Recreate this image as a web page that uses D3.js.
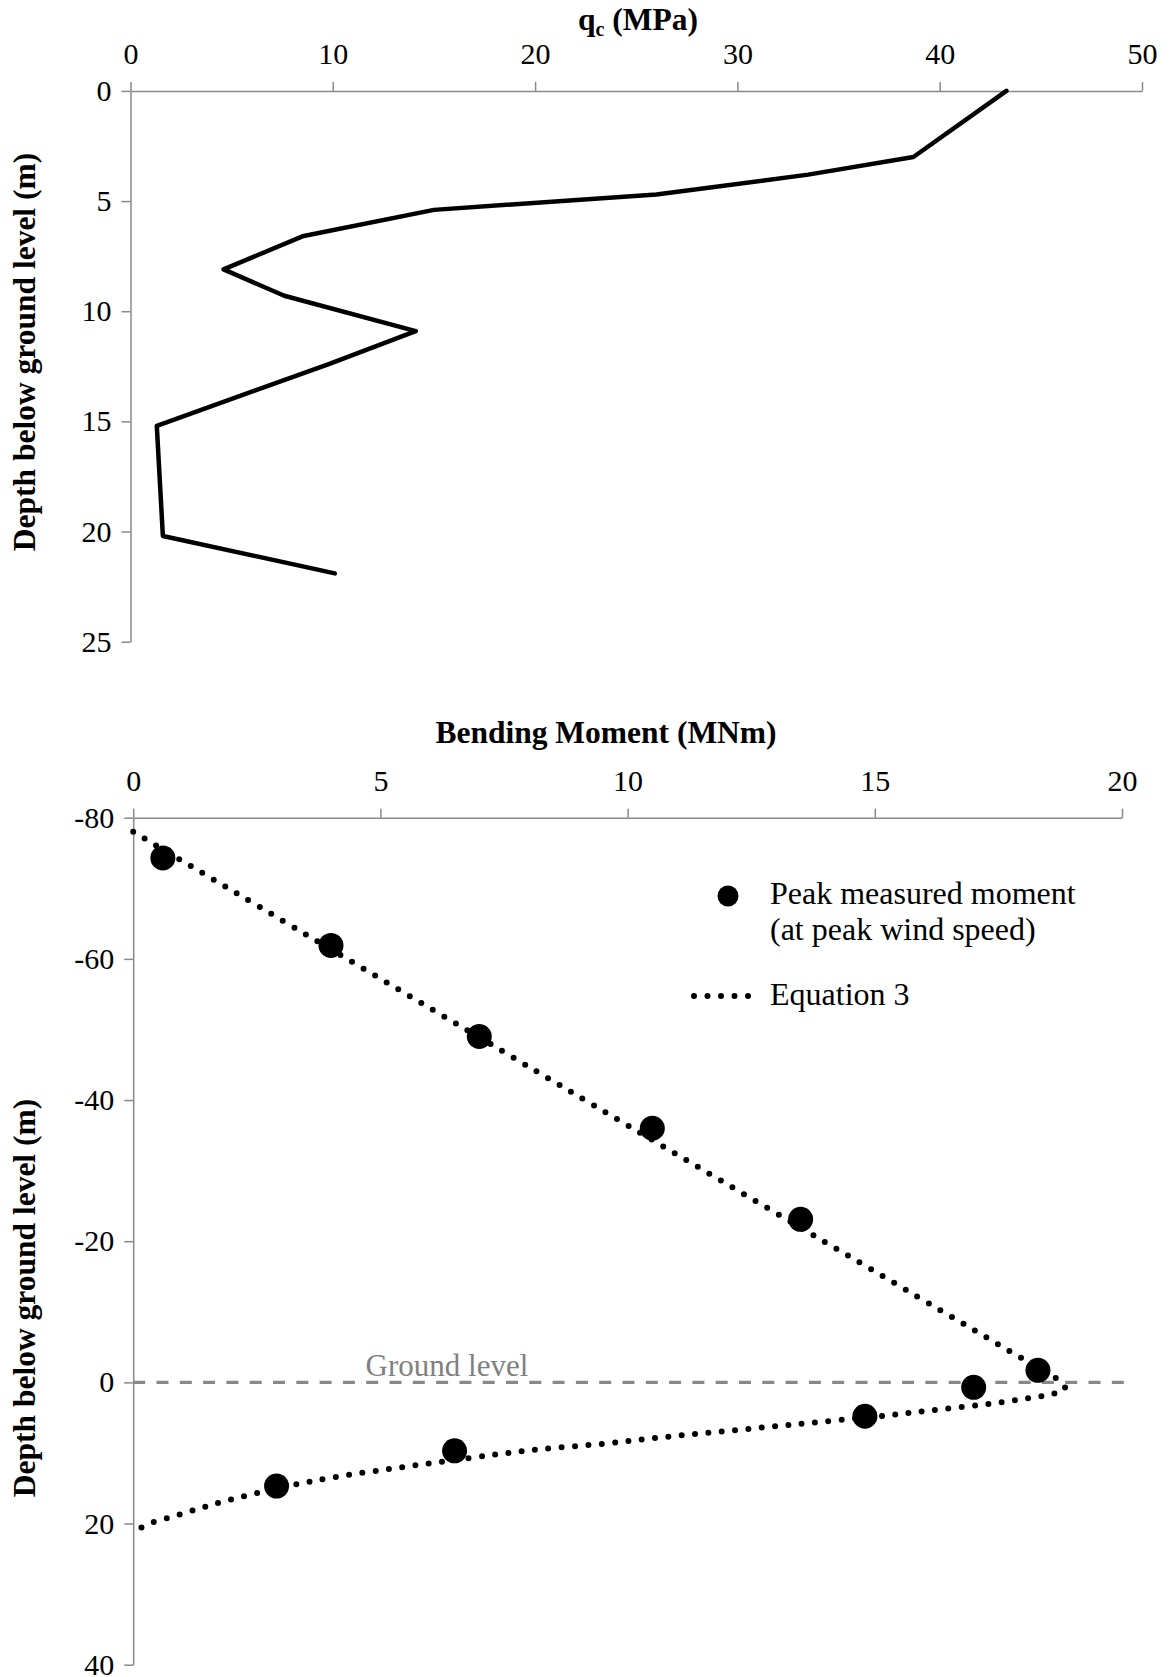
<!DOCTYPE html>
<html lang="en">
<head>
  <meta charset="UTF-8">
  <title>CPT profile and bending moment</title>
  <script src="https://d3js.org/d3.v7.min.js"></script>
  <style>
    body { margin: 0; background: #fff; }
    svg { display: block; font-family: "Liberation Serif", "Times New Roman", serif; }
    .axis path, .axis line { stroke: #898989; stroke-width: 1.5px; }
    .axis text { font-size: 30px; fill: #000; }
    .title { font-size: 31.5px; font-weight: bold; }
  </style>
</head>
<body>
  <svg width="1169" height="1677"></svg>

  <script>
    // top chart: cone resistance profile
    const qcTicks = [0, 10, 20, 30, 40, 50];
    const topDepthTicks = [0, 5, 10, 15, 20, 25];
    const qcValues = [43.3, 38.7, 33.5, 26.0, 15.0, 8.5, 4.6, 7.6, 14.1, 9.8, 1.3, 1.6, 10.1];
    const qcDepth  = [0.0, 3.0, 3.8, 4.7, 5.4, 6.6, 8.1, 9.3, 10.9, 12.4, 15.2, 20.2, 21.9];

    // bottom chart: bending moment
    const momentTicks = [0, 5, 10, 15, 20];
    const bottomDepthTicks = [-80, -60, -40, -20, 0, 20, 40];
    const peakMoment = [0.6, 4.0, 7.0, 10.5, 13.5, 18.3, 17.0, 14.8, 6.5, 2.9];
    const peakDepth  = [-74.3, -61.9, -49.0, -36.0, -23.1, -1.7, 0.7, 4.8, 9.7, 14.7];
    const eqMoment = [0.0, 8.75, 18.0, 18.7, 18.85, 18.6, 18.0, 17.2, 16.1, 15.3, 13.9, 12.8, 11.7,
                      10.6, 9.5, 8.2, 7.35, 6.25, 5.2, 4.1, 3.3, 2.5, 1.9, 1.4, 0.9, 0.35, 0.1];
    const eqDepth  = [-78.0, -41.6, -3.3, -0.4, 0.9, 1.65, 2.35, 3.15, 4.0, 4.65, 5.6, 6.35, 7.1,
                      7.85, 8.7, 9.5, 10.2, 11.25, 12.25, 13.4, 14.45, 15.7, 16.75, 17.75, 18.8, 19.95, 20.8];

    const svg = d3.select("svg");
    const noMinus = d => String(d);

    function styleAxis(g) {
      g.attr("font-family", null).attr("font-size", null);
    }

    // ---------- top chart ----------
    const xTop = d3.scaleLinear().domain([0, 50]).range([130.5, 1142]);
    const yTop = d3.scaleLinear().domain([0, 25]).range([90.9, 641.7]);

    svg.append("g")
      .attr("class", "axis")
      .attr("transform", `translate(0,${yTop(0)})`)
      .call(d3.axisTop(xTop).tickValues(qcTicks).tickSize(9).tickSizeOuter(0).tickPadding(18))
      .call(styleAxis);

    svg.append("g")
      .attr("class", "axis")
      .attr("transform", `translate(${xTop(0)},0)`)
      .call(d3.axisLeft(yTop).tickValues(topDepthTicks).tickSize(9).tickSizeOuter(0).tickPadding(10))
      .call(styleAxis);

    const qcData = qcValues.map((v, i) => ({ x: v, y: qcDepth[i] }));
    svg.append("path")
      .datum(qcData)
      .attr("fill", "none")
      .attr("stroke", "#000")
      .attr("stroke-width", 4.5)
      .attr("stroke-linejoin", "round")
      .attr("stroke-linecap", "round")
      .attr("d", d3.line().x(d => xTop(d.x)).y(d => yTop(d.y)));

    const tTop = svg.append("text")
      .attr("class", "title")
      .attr("x", 638)
      .attr("y", 30)
      .attr("text-anchor", "middle");
    tTop.append("tspan").text("q");
    tTop.append("tspan").attr("font-size", "20px").attr("dy", 6).text("c");
    tTop.append("tspan").attr("dy", -6).text(" (MPa)");

    svg.append("text")
      .attr("class", "title")
      .attr("transform", "translate(35,352) rotate(-90)")
      .attr("text-anchor", "middle")
      .text("Depth below ground level (m)");

    // ---------- bottom chart ----------
    const xBot = d3.scaleLinear().domain([0, 20]).range([133.2, 1122]);
    const yBot = d3.scaleLinear().domain([-80, 40]).range([817.7, 1664.7]);

    svg.append("g")
      .attr("class", "axis")
      .attr("transform", `translate(0,${yBot(-80)})`)
      .call(d3.axisTop(xBot).tickValues(momentTicks).tickSize(9).tickSizeOuter(0).tickPadding(18))
      .call(styleAxis);

    svg.append("g")
      .attr("class", "axis")
      .attr("transform", `translate(${xBot(0)},0)`)
      .call(d3.axisLeft(yBot).tickValues(bottomDepthTicks).tickFormat(noMinus)
        .tickSize(9).tickSizeOuter(0).tickPadding(10))
      .call(styleAxis);

    // ground level
    svg.append("line")
      .attr("x1", xBot(0)).attr("x2", xBot(20.1))
      .attr("y1", yBot(0)).attr("y2", yBot(0))
      .attr("stroke", "#888")
      .attr("stroke-width", 3.3)
      .attr("stroke-dasharray", "12,11.3");

    svg.append("text")
      .attr("x", xBot(4.7))
      .attr("y", yBot(0) - 6)
      .attr("font-size", "31px")
      .attr("fill", "#808080")
      .text("Ground level");

    // equation 3
    const eqData = eqMoment.map((v, i) => ({ x: v, y: eqDepth[i] }));
    svg.append("path")
      .datum(eqData)
      .attr("fill", "none")
      .attr("stroke", "#000")
      .attr("stroke-width", 6)
      .attr("stroke-linecap", "round")
      .attr("stroke-dasharray", "0,13.4")
      .attr("d", d3.line().x(d => xBot(d.x)).y(d => yBot(d.y)).curve(d3.curveCatmullRom.alpha(0.5)));

    // measured peaks
    svg.selectAll(".peak")
      .data(peakMoment.map((v, i) => ({ x: v, y: peakDepth[i] })))
      .join("circle")
      .attr("class", "peak")
      .attr("cx", d => xBot(d.x))
      .attr("cy", d => yBot(d.y))
      .attr("r", 12.5)
      .attr("fill", "#000");

    svg.append("text")
      .attr("class", "title")
      .attr("x", 606)
      .attr("y", 743)
      .attr("text-anchor", "middle")
      .text("Bending Moment (MNm)");

    svg.append("text")
      .attr("class", "title")
      .attr("transform", "translate(35,1298) rotate(-90)")
      .attr("text-anchor", "middle")
      .text("Depth below ground level (m)");

    // legend
    const legend = svg.append("g").attr("font-size", "32px");
    legend.append("circle").attr("cx", 728).attr("cy", 896).attr("r", 10.5).attr("fill", "#000");
    legend.append("text").attr("x", 770).attr("y", 904).text("Peak measured moment");
    legend.append("text").attr("x", 770).attr("y", 940).text("(at peak wind speed)");
    legend.append("line")
      .attr("x1", 694).attr("x2", 750).attr("y1", 996).attr("y2", 996)
      .attr("stroke", "#000").attr("stroke-width", 6)
      .attr("stroke-linecap", "round").attr("stroke-dasharray", "0,13.5");
    legend.append("text").attr("x", 770).attr("y", 1005).text("Equation 3");
  </script>
</body>
</html>
